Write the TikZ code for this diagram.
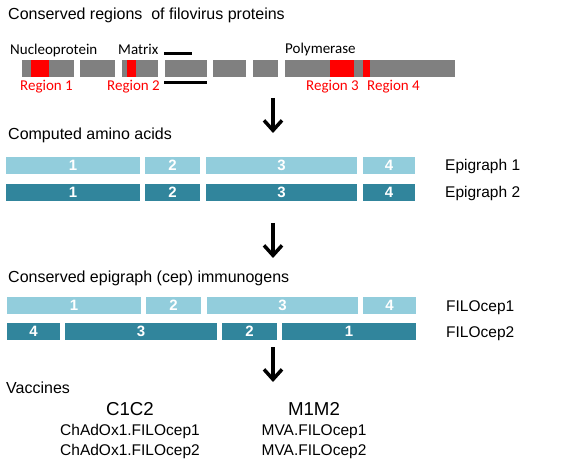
\documentclass[tikz,border=0pt]{standalone}
\usepackage{fontspec}
\setmainfont{Liberation Sans}
\newfontfamily\calfont{Carlito}
\usetikzlibrary{arrows.meta}
\definecolor{protgray}{HTML}{808080}
\definecolor{consred}{HTML}{FF0000}
\definecolor{epione}{HTML}{92CDDC}
\definecolor{epitwo}{HTML}{31859C}
\newcommand{\headfont}{\fontsize{16}{19}\selectfont}
\newcommand{\labfont}{\fontsize{15.5}{18}\selectfont}

\begin{document}
\begin{tikzpicture}[x=1pt,y=-1pt,
  seg/.style={inner sep=0pt,minimum height=17pt},
  gseg/.style={seg,fill=protgray},
  rseg/.style={seg,fill=consred},
  lseg/.style={seg,fill=epione,text=white,font=\fontsize{15}{17}\selectfont\bfseries},
  dseg/.style={seg,fill=epitwo,text=white,font=\fontsize{15}{17}\selectfont\bfseries},
  head/.style={anchor=base west,inner sep=0pt,font=\headfont},
  prot/.style={anchor=base west,inner sep=0pt,font=\calfont\fontsize{15}{18}\selectfont},
  reg/.style={prot,text=consred},
  side/.style={anchor=base west,inner sep=0pt,font=\labfont},
  flow/.style={line width=3.5pt,-{Straight Barb[length=10pt,width=18pt]}}]
\useasboundingbox (0,0) rectangle (579,468);
% proteins
\node[head] (title) at (8,19.5) {Conserved regions \ of filovirus proteins};
\node[gseg,minimum width=52pt] (p1) at (48,68.5) {};
\node[gseg,minimum width=35pt] (p2) at (97.5,68.5) {};
\node[gseg,minimum width=36pt] (p3) at (140,68.5) {};
\node[gseg,minimum width=42pt] (p4) at (186,68.5) {};
\node[gseg,minimum width=33pt] (p5) at (229.5,68.5) {};
\node[gseg,minimum width=25pt] (p6) at (265.5,68.5) {};
\node[gseg,minimum width=170pt] (p7) at (370,68.5) {};
\node[rseg,minimum width=18pt] (r1) at (40,68.5) {};
\node[rseg,minimum width=9pt] (r2) at (131.5,68.5) {};
\node[rseg,minimum width=24pt] (r3) at (342,68.5) {};
\node[rseg,minimum width=7pt] (r4) at (366.5,68.5) {};
\draw[line width=3pt] (164,54) -- (192,54);
\draw[line width=3pt] (164,83) -- (207,83);
\node[prot] (np) at (10,55) {Nucleoprotein};
\node[prot] (mx) at (118,55) {Matrix};
\node[prot] (pol) at (285,54) {Polymerase};
\node[reg] (lr1) at (20,91) {Region 1};
\node[reg] (lr2) at (107,91) {Region 2};
\node[reg] (lr3) at (306,91) {Region 3};
\node[reg] (lr4) at (367,91) {Region 4};
\coordinate (a1s) at (273,98);
\coordinate (a1e) at (273,133);
\draw[flow] (a1s) -- (a1e);
% epigraphs
\node[head] (comp) at (8,140) {Computed amino acids};
\node[lseg,minimum width=134pt] (e11) at (73,165.5) {1};
\node[lseg,minimum width=55pt] (e12) at (172.5,165.5) {2};
\node[lseg,minimum width=151pt] (e13) at (281.5,165.5) {3};
\node[lseg,minimum width=52pt] (e14) at (389,165.5) {4};
\node[dseg,minimum width=134pt] (e21) at (73,192.5) {1};
\node[dseg,minimum width=55pt] (e22) at (172.5,192.5) {2};
\node[dseg,minimum width=151pt] (e23) at (281.5,192.5) {3};
\node[dseg,minimum width=52pt] (e24) at (389,192.5) {4};
\node[side] (epi1) at (445,171) {Epigraph 1};
\node[side] (epi2) at (445,198) {Epigraph 2};
\coordinate (a2s) at (273,223);
\coordinate (a2e) at (273,258);
\draw[flow] (a2s) -- (a2e);
% immunogens
\node[head] (cep) at (8,282) {Conserved epigraph (cep) immunogens};
\node[lseg,minimum width=134pt] (c11) at (74,305.5) {1};
\node[lseg,minimum width=55pt] (c12) at (173.5,305.5) {2};
\node[lseg,minimum width=151pt] (c13) at (282.5,305.5) {3};
\node[lseg,minimum width=53pt] (c14) at (389.5,305.5) {4};
\node[dseg,minimum width=53pt] (c24) at (33.5,331.5) {4};
\node[dseg,minimum width=152pt] (c23) at (141,331.5) {3};
\node[dseg,minimum width=55pt] (c22) at (249.5,331.5) {2};
\node[dseg,minimum width=134pt] (c21) at (349,331.5) {1};
\node[side] (fc1) at (446,311) {FILOcep1};
\node[side] (fc2) at (446,337) {FILOcep2};
\coordinate (a3s) at (273,347);
\coordinate (a3e) at (273,382);
\draw[flow] (a3s) -- (a3e);
% vaccines
\node[head] (vac) at (6,393) {Vaccines};
\node[anchor=base,inner sep=0pt,font=\fontsize{18.7}{21}\selectfont] (cc) at (130,415) {C1C2};
\node[anchor=base,inner sep=0pt,font=\fontsize{18.7}{21}\selectfont] (mm) at (314,415) {M1M2};
\node[anchor=base,inner sep=0pt,font=\labfont] (ch1) at (130,435) {ChAdOx1.FILOcep1};
\node[anchor=base,inner sep=0pt,font=\labfont] (ch2) at (130,455) {ChAdOx1.FILOcep2};
\node[anchor=base,inner sep=0pt,font=\labfont] (mv1) at (314,435) {MVA.FILOcep1};
\node[anchor=base,inner sep=0pt,font=\labfont] (mv2) at (314,455) {MVA.FILOcep2};
\end{tikzpicture}
\end{document}
